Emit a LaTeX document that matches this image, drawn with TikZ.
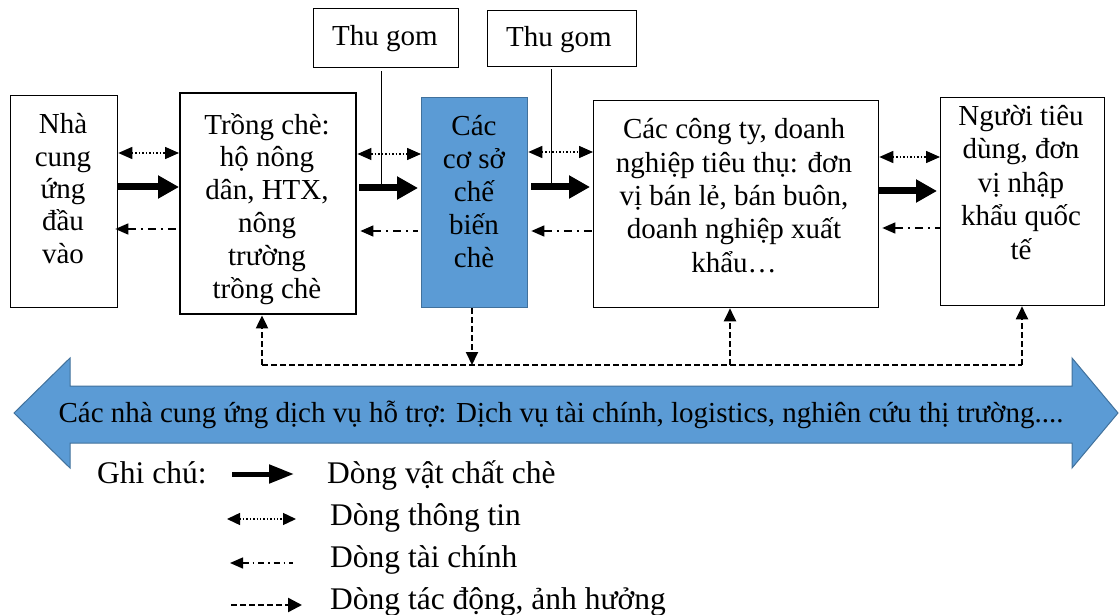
\documentclass[tikz,border=0pt]{standalone}
\usepackage{fontspec}
\setmainfont{Liberation Serif}
\usetikzlibrary{arrows.meta}
\definecolor{svcblue}{HTML}{5B9BD5}
\definecolor{svcedge}{HTML}{41719C}
\begin{document}
\begin{tikzpicture}[x=1pt,y=-1pt,
  box/.style={draw, line width=1.3pt, inner sep=0pt, anchor=north west},
  txt/.style={inner sep=0pt, align=center, font=\fontsize{29}{33}\selectfont},
  lgd/.style={inner sep=0pt, anchor=base west, font=\fontsize{31.5}{35}\selectfont},
  goods/.style={line width=7pt, -{Triangle[length=21pt,width=22pt]}},
  info/.style={line width=1.5pt, dotted, {Triangle[length=14pt,width=12pt]}-{Triangle[length=14pt,width=12pt]}},
  money/.style={line width=1.5pt, dash pattern=on 8pt off 5pt on 2pt off 5pt, {Triangle[length=13pt,width=11pt]}-},
  infl/.style={line width=2pt, dash pattern=on 6pt off 3pt},
  infltip/.style={-{Triangle[length=13pt,width=12pt]}},
  goodsL/.style={line width=5pt, -{Triangle[length=25pt,width=18pt]}},
  infoL/.style={line width=1.4pt, dotted, {Triangle[length=13pt,width=12pt]}-{Triangle[length=13pt,width=12pt]}},
  moneyL/.style={line width=1.4pt, dash pattern=on 6pt off 4pt on 1.5pt off 4pt, {Triangle[length=13pt,width=11pt]}-},
  inflL/.style={line width=2.4pt, dash pattern=on 6pt off 3pt, -{Triangle[length=14pt,width=14pt]}}
]
\useasboundingbox (0,0) rectangle (1120,615);

% main chain of boxes
\node[box, minimum width=107pt, minimum height=212pt] (b1) at (10,95) {};
\node[box, line width=2.4pt, minimum width=176pt, minimum height=221pt] (b2) at (179,92) {};
\node[box, draw=svcedge, fill=svcblue, minimum width=106pt, minimum height=210pt] (b3) at (421,97) {};
\node[box, minimum width=285pt, minimum height=207pt] (b4) at (593,100) {};
\node[box, minimum width=164pt, minimum height=208pt] (b5) at (940,97) {};
\node[box, minimum width=145pt, minimum height=59pt] (tg1) at (313,8) {};
\node[box, minimum width=149pt, minimum height=56pt] (tg2) at (487,10) {};

% box texts (anchored on the baseline of their last line)
\node[txt, anchor=base, font=\fontsize{29}{32.3}\selectfont] (t1) at (63,263) {Nhà\\cung\\ứng\\đầu\\vào};
\node[txt, anchor=base, font=\fontsize{29}{32.8}\selectfont] (t2) at (267,298) {Trồng chè:\\hộ nông\\dân, HTX,\\nông\\trường\\trồng chè};
\node[txt, anchor=base] (t3) at (474,267) {Các\\cơ sở\\chế\\biến\\chè};
\node[txt, anchor=base, font=\fontsize{29}{33.3}\selectfont] (t4) at (734,272) {Các công ty, doanh\\nghiệp tiêu thụ: đơn\\vị bán lẻ, bán buôn,\\doanh nghiệp xuất\\khẩu…};
\node[txt, anchor=base, font=\fontsize{29}{33.5}\selectfont] (t5) at (1021,259) {Người tiêu\\dùng, đơn\\vị nhập\\khẩu quốc\\tế};
\node[txt, anchor=base] (tt1) at (385,46) {Thu gom};
\node[txt, anchor=base] (tt2) at (559,47) {Thu gom};

% flows between neighbouring boxes
\draw[info] (b1.east |- 0,153) -- (b2.west |- 0,153);
\draw[goods] (b1.east |- 0,187) -- (b2.west |- 0,187);
\draw[money] ([xshift=-3pt]b1.east |- 0,229) -- (b2.west |- 0,229);

\draw[info] (b2.east |- 0,154) -- (b3.west |- 0,154);
\draw[goods, shorten >=3pt] ([xshift=2pt]b2.east |- 0,188) -- (b3.west |- 0,188);
\draw[money] ([xshift=3pt]b2.east |- 0,231) -- ([xshift=-3pt]b3.west |- 0,231);

\draw[info] (b3.east |- 0,152) -- (b4.west |- 0,152);
\draw[goods, shorten >=3pt] ([xshift=3pt]b3.east |- 0,187) -- (b4.west |- 0,187);
\draw[money] ([xshift=3pt]b3.east |- 0,231) -- (b4.west |- 0,231);

\draw[info] (b4.east |- 0,157) -- (b5.west |- 0,157);
\draw[goods, shorten >=3pt] (b4.east |- 0,191) -- (b5.west |- 0,191);
\draw[money] ([xshift=3pt]b4.east |- 0,228) -- (b5.west |- 0,228);

% collection points feeding the goods flow
\draw[line width=1.3pt, shorten <=3pt] ([xshift=-5pt]tg1.south) -- ([xshift=-5pt]tg1.south |- 0,188);
\draw[line width=1.3pt, shorten <=2pt] ([xshift=-11pt]tg2.south) -- ([xshift=-11pt]tg2.south |- 0,187);

% influence network
\coordinate (j2) at (262,365);
\coordinate (j3) at (472,365);
\coordinate (j4) at (730,365);
\coordinate (j5) at (1022,365);
\draw[infl] (j2) -- (j5);
\draw[infl, infltip] (j2) -- (b2.south -| j2);
\draw[infl, infltip] (b3.south -| j3) -- (j3);
\draw[infl, infltip] (j4) -- (b4.south -| j4);
\draw[infl, infltip] (j5) -- (b5.south -| j5);

% support services band
\draw[draw=svcedge, fill=svcblue, line width=1pt, line join=miter]
  (14,413) -- (70,358) -- (70,386) -- (1072,386) -- (1072,358) -- (1118,413)
  -- (1072,468) -- (1072,443) -- (70,443) -- (70,468) -- cycle;
\node[txt, anchor=base] (svc) at (561,422) {Các nhà cung ứng dịch vụ hỗ trợ: Dịch vụ tài chính, logistics, nghiên cứu thị trường....};

% legend
\node[lgd] (lg0) at (97,483) {Ghi chú:};
\coordinate (l1a) at (232,474); \coordinate (l1b) at (294,474);
\coordinate (l2a) at (227,519); \coordinate (l2b) at (296,519);
\coordinate (l3a) at (230,563); \coordinate (l3b) at (293,563);
\coordinate (l4a) at (231,605); \coordinate (l4b) at (302,605);
\draw[goodsL] (l1a) -- (l1b);
\draw[infoL] (l2a) -- (l2b);
\draw[moneyL] (l3a) -- (l3b);
\draw[inflL] (l4a) -- (l4b);
\node[lgd] (lg1) at (327,483) {Dòng vật chất chè};
\node[lgd] (lg2) at (330,525) {Dòng thông tin};
\node[lgd] (lg3) at (330,567) {Dòng tài chính};
\node[lgd] (lg4) at (330,609) {Dòng tác động, ảnh hưởng};
\end{tikzpicture}
\end{document}
